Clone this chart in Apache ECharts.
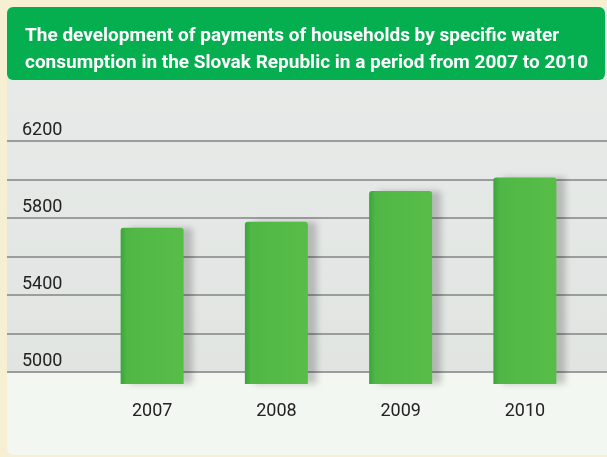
<!DOCTYPE html>
<html>
<head>
<meta charset="utf-8">
<title>Water payments</title>
<script src="https://cdn.jsdelivr.net/npm/echarts@6/dist/echarts.min.js"></script>
<style>
	html, body { margin: 0; padding: 0; background: #f6efd2; }
	#chart { width: 607px; height: 457px; }
</style>
</head>
<body>
<div id="chart"></div>
<script>
// data
var years = ['2007', '2008', '2009', '2010'];
var payments = [5750, 5780, 5940, 6010];
var axisMin = 5000, axisMax = 6200, axisStep = 200;
var labelledTicks = [5000, 5400, 5800, 6200];

var titleText = 'The development of payments of households by specific water\nconsumption in the Slovak Republic in a period from 2007 to 2010';

var chart = echarts.init(document.getElementById('chart'));

var option = {
	backgroundColor: 'transparent',
	animation: false,
	graphic: [
		// panel
		{ type: 'rect', shape: { x: 7, y: 7, width: 610, height: 448, r: [6, 0, 0, 6] },
			style: { fill: new echarts.graphic.LinearGradient(0, 0, 0, 1, [
				{ offset: 0, color: '#e9ecea' }, { offset: 1, color: '#dfe3e0' }]) }, z: -10 },
		{ type: 'rect', shape: { x: 7, y: 373, width: 610, height: 82, r: [0, 0, 0, 6] },
			style: { fill: '#f3f7f1' }, z: -9 },
		// title box
		{ type: 'rect', shape: { x: 7, y: 7, width: 598, height: 73, r: 6 },
			style: { fill: '#05ae4f' }, z: -5 }
	],
	title: {
		text: titleText,
		left: 20,
		top: 18,
		textStyle: {
			color: '#ffffff',
			fontFamily: 'Roboto',
			fontWeight: 'bold',
			fontSize: 19,
			lineHeight: 27
		}
	},
	grid: [
		{ left: 7, right: 0, top: 141, height: 231 },
		{ left: 90, right: 20, top: 141, height: 243 }
	],
	xAxis: [
		{ type: 'category', gridIndex: 0, data: years, show: false },
		{
			type: 'category', gridIndex: 1, data: years,
			axisLine: { show: false },
			axisTick: { show: false },
			axisLabel: { margin: 18, color: '#222222', fontSize: 18, fontFamily: 'Roboto' }
		}
	],
	yAxis: [
		{
			type: 'value', gridIndex: 0,
			min: axisMin, max: axisMax, interval: axisStep,
			axisLine: { show: false },
			axisTick: { show: false },
			splitLine: { lineStyle: { color: '#9b9d9c', width: 2 } },
			axisLabel: {
				inside: true,
				margin: 15,
				verticalAlign: 'bottom',
				padding: [0, 0, 2, 0],
				color: '#222222',
				fontSize: 18,
				fontFamily: 'Roboto',
				formatter: function (v) {
					return labelledTicks.indexOf(v) >= 0 ? String(v) : '';
				}
			}
		},
		{
			type: 'value', gridIndex: 1,
			min: 4938, max: axisMax,
			show: false,
			splitLine: { show: false }
		}
	],
	series: [{
		type: 'bar',
		xAxisIndex: 1,
		yAxisIndex: 1,
		data: payments,
		barWidth: 63,
		itemStyle: {
			color: new echarts.graphic.LinearGradient(0, 0, 1, 0, [
				{ offset: 0, color: '#3aa53a' },
				{ offset: 0.1, color: '#50b746' },
				{ offset: 1, color: '#58bd48' }
			]),
			borderRadius: [3, 3, 0, 0],
			shadowColor: 'rgba(0,0,0,0.2)',
			shadowBlur: 6,
			shadowOffsetX: 9
		}
	}]
};

chart.setOption(option);
</script>
</body>
</html>
